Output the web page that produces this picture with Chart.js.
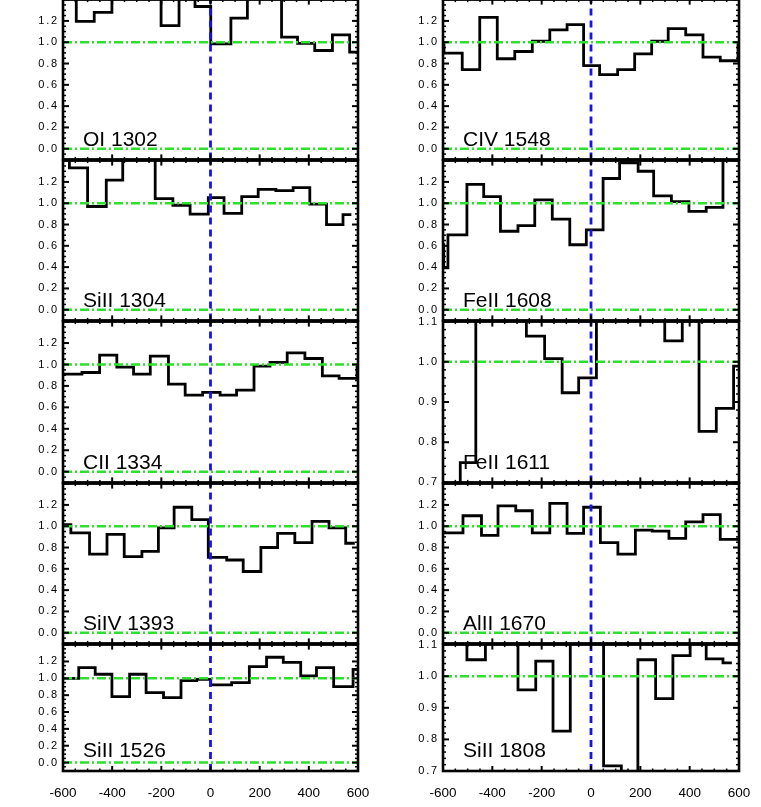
<!DOCTYPE html>
<html>
<head>
<meta charset="utf-8">
<title>Line profiles</title>
<script src="https://cdn.jsdelivr.net/npm/chart.js@4.4.1/dist/chart.umd.min.js"></script>
<style>
html, body { margin: 0; padding: 0; background: #fff; }
#fig { position: relative; width: 761px; height: 807px; overflow: hidden; background: #fff; }
#fig canvas { position: absolute; }
.lbl { position: absolute; font-family: "Liberation Sans", Arial, sans-serif; font-size: 21px; line-height: 21px; color: #000; white-space: nowrap; }
</style>
</head>
<body>
<div id="fig"></div>
<script>
// bin edges in km/s (one more than the flux values) and normalised flux
var vel_OI1302  = [-600, -546, -473, -401, -330, -266, -201, -128, -63, 1, 83, 150, 221, 289, 354, 424, 496, 566, 600];
var flux_OI1302 = [1.5, 1.196, 1.28, 1.5, 1.5, 1.5, 1.155, 1.5, 1.335, 0.984, 1.227, 1.5, 1.5, 1.047, 0.99, 0.922, 1.068, 0.907];

var vel_CIV1548  = [-666, -596, -522, -451, -380, -309, -238, -167, -97, -30, 35, 108, 177, 246, 313, 384, 454, 524, 596, 666];
var flux_CIV1548 = [0.98, 0.897, 0.742, 1.233, 0.845, 0.913, 1.009, 1.115, 1.165, 0.78, 0.696, 0.742, 0.891, 1.009, 1.127, 1.068, 0.86, 0.826, 0.98];

var vel_SiII1304  = [-640, -574, -500, -424, -357, -291, -225, -153, -83, -9, 55, 127, 194, 266, 336, 404, 472, 539, 573];
var flux_SiII1304 = [1.5, 1.331, 0.969, 1.217, 1.5, 1.5, 1.043, 0.981, 0.898, 1.053, 0.904, 1.062, 1.13, 1.118, 1.146, 0.991, 0.799, 0.892];

var vel_FeII1608  = [-660, -597, -580, -503, -435, -367, -296, -228, -157, -86, -19, 49, 116, 191, 254, 326, 397, 467, 535, 605];
var flux_FeII1608 = [0.61, 0.393, 0.703, 1.176, 1.062, 0.737, 0.789, 1.031, 0.851, 0.61, 0.749, 1.232, 1.378, 1.3, 1.068, 1.015, 0.923, 0.96, 1.5];

var vel_CII1334  = [-600, -523, -451, -381, -313, -245, -171, -103, -32, 39, 106, 177, 242, 312, 384, 455, 523, 596, 660];
var flux_CII1334 = [0.91, 0.925, 1.087, 0.975, 0.91, 1.078, 0.817, 0.714, 0.739, 0.714, 0.761, 0.984, 1.019, 1.109, 1.056, 0.894, 0.87, 0.978];

var vel_FeII1611  = [-600, -530, -467, -397, -330, -262, -188, -117, -50, 22, 89, 157, 224, 299, 370, 438, 508, 578, 640];
var flux_FeII1611 = [0.65, 0.749, 1.2, 1.2, 1.2, 1.064, 1.008, 0.923, 0.96, 1.2, 1.2, 1.2, 1.2, 1.052, 1.2, 0.827, 0.884, 0.989];

var vel_SiIV1393  = [-640, -568, -492, -421, -351, -279, -212, -148, -76, -9, 66, 133, 205, 273, 343, 413, 482, 550, 587];
var flux_SiIV1393 = [1.015, 0.938, 0.738, 0.923, 0.714, 0.763, 0.985, 1.178, 1.062, 0.708, 0.683, 0.575, 0.8, 0.932, 0.846, 1.046, 0.985, 0.84];

var vel_AlII1670  = [-640, -519, -444, -377, -305, -238, -167, -97, -30, 38, 109, 180, 248, 316, 384, 454, 524, 640];
var flux_AlII1670 = [0.938, 1.098, 0.914, 1.191, 1.145, 0.938, 1.215, 0.932, 1.178, 0.846, 0.738, 0.963, 0.954, 0.886, 1.04, 1.108, 0.877];

var vel_SiII1526  = [-640, -536, -469, -401, -329, -262, -191, -120, -56, 1, 86, 158, 228, 296, 367, 431, 501, 580, 640];
var flux_SiII1526 = [1.0, 1.127, 1.048, 0.782, 1.048, 0.829, 0.77, 0.972, 0.988, 0.921, 0.948, 1.139, 1.25, 1.19, 1.028, 1.127, 0.901, 1.107];

var vel_SiII1808  = [-640, -503, -428, -363, -296, -224, -154, -84, -16, 51, 123, 190, 262, 332, 402, 467, 535, 571];
var flux_SiII1808 = [1.2, 1.052, 1.2, 1.2, 0.957, 1.048, 0.826, 1.2, 1.2, 0.716, 0.6, 1.052, 0.929, 1.065, 1.2, 1.055, 1.042];

var xTicks = [-600, -400, -200, 0, 200, 400, 600];
var yTicksWide = [0.0, 0.2, 0.4, 0.6, 0.8, 1.0, 1.2];
var yTicksNarrow = [0.7, 0.8, 0.9, 1.0, 1.1];
var rangeWide = [-0.1, 1.4];
var rangeNarrow = [0.7, 1.1];
var contLevels = [0.0, 1.0];

// panel layout (pixels)
var colLeft = [63, 443], colRight = [358, 739], colPadR = [26, 26];
var rowTop = [-1, 160, 321, 483, 644], rowBot = [160, 321, 483, 644, 771];
var GREEN = '#2de02d', BLUE = '#1414e8';

var panels = [
  { name: 'OI 1302',   col: 0, row: 0, vel: vel_OI1302,   flux: flux_OI1302,   narrow: false },
  { name: 'CIV 1548',  col: 1, row: 0, vel: vel_CIV1548,  flux: flux_CIV1548,  narrow: false },
  { name: 'SiII 1304', col: 0, row: 1, vel: vel_SiII1304, flux: flux_SiII1304, narrow: false },
  { name: 'FeII 1608', col: 1, row: 1, vel: vel_FeII1608, flux: flux_FeII1608, narrow: false },
  { name: 'CII 1334',  col: 0, row: 2, vel: vel_CII1334,  flux: flux_CII1334,  narrow: false },
  { name: 'FeII 1611', col: 1, row: 2, vel: vel_FeII1611, flux: flux_FeII1611, narrow: true },
  { name: 'SiIV 1393', col: 0, row: 3, vel: vel_SiIV1393, flux: flux_SiIV1393, narrow: false },
  { name: 'AlII 1670', col: 1, row: 3, vel: vel_AlII1670, flux: flux_AlII1670, narrow: false },
  { name: 'SiII 1526', col: 0, row: 4, vel: vel_SiII1526, flux: flux_SiII1526, narrow: false },
  { name: 'SiII 1808', col: 1, row: 4, vel: vel_SiII1808, flux: flux_SiII1808, narrow: true }
];

function histPoints(vel, flux) {
  var pts = [];
  for (var i = 0; i < flux.length; i++) pts.push({ x: vel[i], y: flux[i] });
  pts.push({ x: vel[vel.length - 1], y: flux[flux.length - 1] });
  return pts;
}

// box + inward ticks on all four sides, IDL style
var framePlugin = {
  id: 'frame',
  afterDatasetsDraw: function (chart, args, opts) {
    var ctx = chart.ctx, a = chart.chartArea;
    var xs = chart.scales.x, ys = chart.scales.y;
    ctx.save();
    ctx.strokeStyle = '#000';
    function seg(x1, y1, x2, y2, w) {
      ctx.lineWidth = w;
      ctx.beginPath(); ctx.moveTo(x1, y1); ctx.lineTo(x2, y2); ctx.stroke();
    }
    var i, v, p, maj;
    var xStep = (xTicks[1] - xTicks[0]) / 4;
    for (i = 0, v = xs.min; v <= xs.max + 1e-6; i++, v = xs.min + i * xStep) {
      p = xs.getPixelForValue(v);
      maj = i % 4 === 0;
      seg(p, a.bottom, p, a.bottom - (maj ? 5 : 2.5), maj ? 2 : 1.5);
      seg(p, a.top, p, a.top + (maj ? 5 : 2.5), maj ? 2 : 1.5);
    }
    var yt = opts.yTicks, nSub = opts.nSub;
    var yStep = (yt[1] - yt[0]) / nSub;
    var start = yt[0] - Math.floor((yt[0] - ys.min) / yStep + 1e-6) * yStep;
    for (v = start; v <= ys.max + 1e-6; v += yStep) {
      p = ys.getPixelForValue(v);
      var k = Math.round((v - yt[0]) / yStep);
      maj = ((k % nSub) + nSub) % nSub === 0;
      seg(a.left, p, a.left + (maj ? 6 : 3), p, maj ? 2 : 1.5);
      seg(a.right, p, a.right - (maj ? 6 : 3), p, maj ? 2 : 1.5);
    }
    ctx.lineWidth = 2.6;
    ctx.strokeRect(a.left, a.top, a.right - a.left, a.bottom - a.top);
    ctx.restore();
  }
};

var fig = document.getElementById('fig');

panels.forEach(function (pn) {
  var bottomRow = pn.row === 4;
  var rng = pn.narrow ? rangeNarrow : rangeWide;
  var yt = pn.narrow ? yTicksNarrow : yTicksWide;
  var padTop = 10, padBot = bottomRow ? 0 : 10, xAxisH = bottomRow ? 36 : 0;
  var plotW = colRight[pn.col] - colLeft[pn.col];
  var plotH = rowBot[pn.row] - rowTop[pn.row];
  var W = 63 + plotW + colPadR[pn.col];
  var H = padTop + plotH + padBot + xAxisH;

  var cv = document.createElement('canvas');
  cv.width = W; cv.height = H;
  cv.style.width = W + 'px'; cv.style.height = H + 'px';
  cv.style.left = (colLeft[pn.col] - 63) + 'px';
  cv.style.top = (rowTop[pn.row] - padTop) + 'px';
  fig.appendChild(cv);

  var sets = [{
    data: histPoints(pn.vel, pn.flux),
    stepped: 'before',
    borderColor: '#000', borderWidth: 2.8, pointRadius: 0, fill: false, order: 3
  }];
  contLevels.forEach(function (lv) {
    if (lv < rng[0] || lv > rng[1]) return;
    sets.push({
      data: [{ x: -600, y: lv }, { x: 600, y: lv }],
      borderColor: GREEN, borderWidth: 2.4, borderDash: [9, 3, 2, 3],
      pointRadius: 0, fill: false, order: 2
    });
  });
  sets.push({
    data: [{ x: 0, y: rng[0] }, { x: 0, y: rng[1] }],
    borderColor: BLUE, borderWidth: 2.8, borderDash: [7, 5],
    pointRadius: 0, fill: false, order: 1
  });

  new Chart(cv, {
    type: 'line',
    data: { datasets: sets },
    options: {
      responsive: false,
      animation: false,
      events: [],
      layout: { padding: { top: padTop, right: colPadR[pn.col], bottom: padBot, left: 0 } },
      plugins: {
        legend: { display: false },
        tooltip: { enabled: false },
        frame: { yTicks: yt, nSub: pn.narrow ? 5 : 4 }
      },
      scales: {
        x: {
          type: 'linear', min: -600, max: 600,
          display: bottomRow,
          grid: { display: false, drawTicks: false },
          border: { display: false },
          afterBuildTicks: function (s) { s.ticks = xTicks.map(function (v) { return { value: v }; }); },
          ticks: {
            color: '#000', padding: 14, maxRotation: 0, autoSkip: false,
            font: { family: 'Liberation Sans', size: 13.5 },
            callback: function (v) { return String(v); }
          },
          afterFit: function (s) { s.height = xAxisH; }
        },
        y: {
          type: 'linear', min: rng[0], max: rng[1],
          grid: { display: false, drawTicks: false },
          border: { display: false },
          afterBuildTicks: function (s) { s.ticks = yt.map(function (v) { return { value: v }; }); },
          ticks: {
            color: '#000', padding: 4, autoSkip: false,
            font: { family: 'Liberation Sans', size: 11 },
            callback: function (v) { return Number(v).toFixed(1); }
          },
          afterFit: function (s) { s.width = 63; },
          afterUpdate: function (s) {
            if (s._spaced) return;
            var orig = s.drawLabels;
            s.drawLabels = function (area) {
              this.ctx.letterSpacing = '1.8px';
              orig.call(this, area);
              this.ctx.letterSpacing = '0px';
            };
            s._spaced = true;
          }
        }
      }
    },
    plugins: [framePlugin]
  });

  var lb = document.createElement('div');
  lb.className = 'lbl';
  lb.textContent = pn.name;
  lb.style.left = (colLeft[pn.col] + 20) + 'px';
  lb.style.top = (rowBot[pn.row] - 32) + 'px';
  fig.appendChild(lb);
});
</script>
</body>
</html>
